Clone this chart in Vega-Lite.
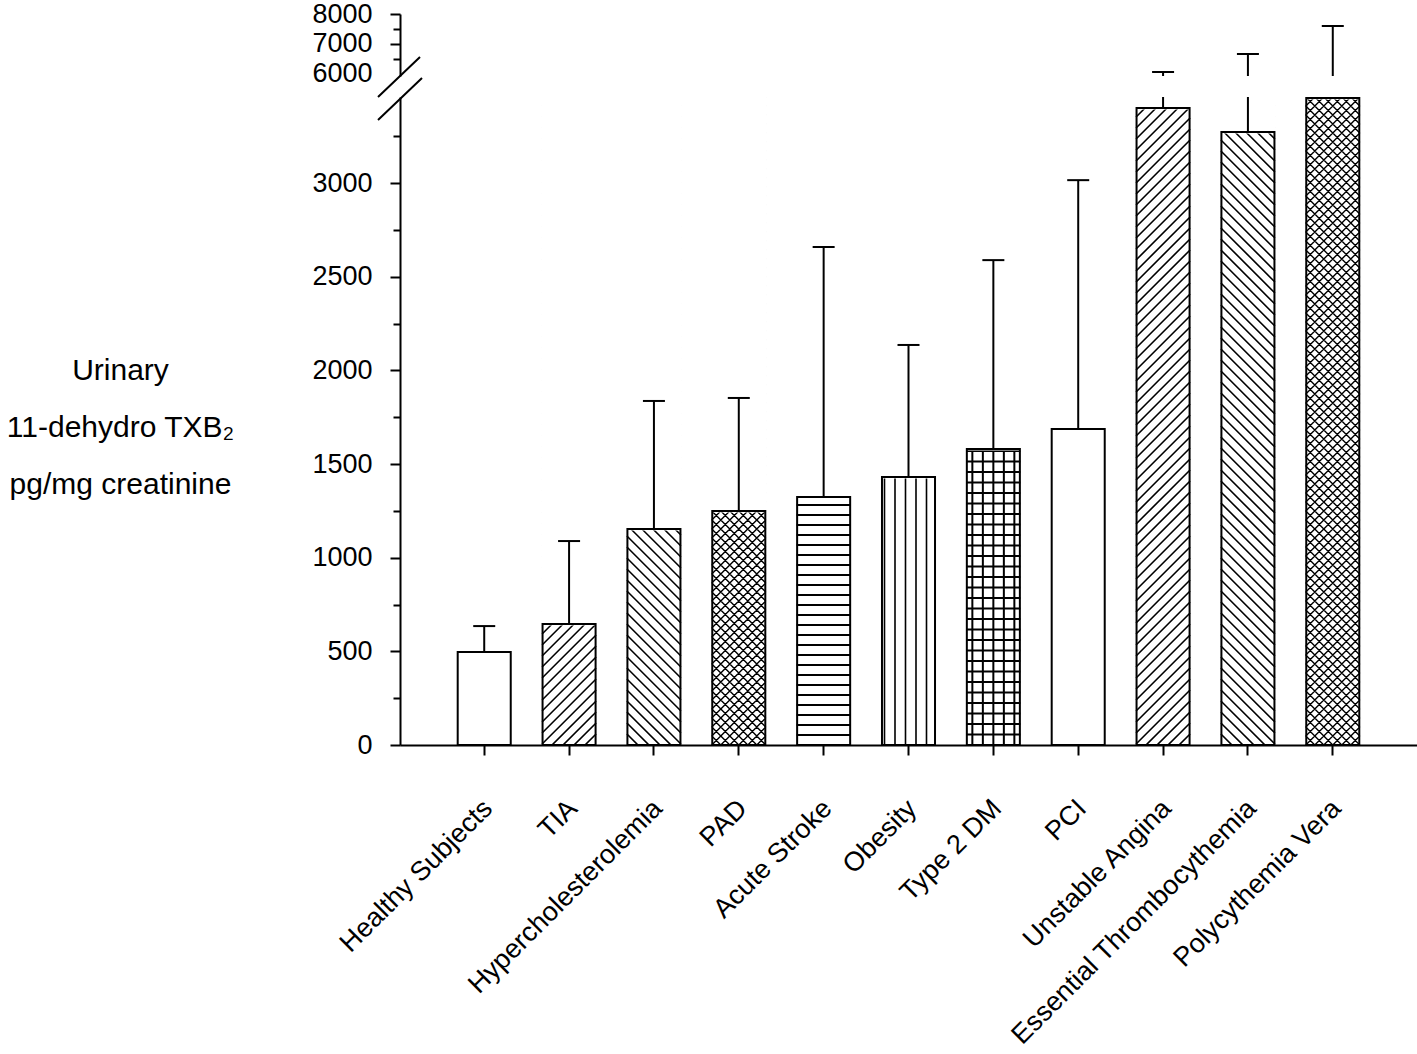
{
  "$schema": "https://vega.github.io/schema/vega-lite/v6.json",
  "description": "Urinary 11-dehydro TXB2 by condition, broken y axis.",
  "autosize": {"type": "none"},
  "width": 1017,
  "height": 731,
  "padding": {"left": 400, "top": 14, "right": 0, "bottom": 309},
  "background": "white",
  "data": {
    "values": [
      {"group": "Healthy Subjects", "mean": 497, "upper": 635},
      {"group": "TIA", "mean": 646, "upper": 1089},
      {"group": "Hypercholesterolemia", "mean": 1153, "upper": 1837},
      {"group": "PAD", "mean": 1249, "upper": 1853},
      {"group": "Acute Stroke", "mean": 1324, "upper": 2659},
      {"group": "Obesity", "mean": 1431, "upper": 2136},
      {"group": "Type 2 DM", "mean": 1580, "upper": 2589},
      {"group": "PCI", "mean": 1687, "upper": 3016},
      {"group": "Unstable Angina", "mean": 3401, "upper": 6067},
      {"group": "Essential Thrombocythemia", "mean": 3273, "upper": 6667},
      {"group": "Polycythemia Vera", "mean": 3454, "upper": 7600}
    ]
  },
  "config": {
    "view": {"stroke": null},
    "axis": {
      "grid": false,
      "domainColor": "#000",
      "domainWidth": 2,
      "tickColor": "#000",
      "tickWidth": 2,
      "labelColor": "#000",
      "labelFont": "Liberation Sans",
      "labelFontSize": 27,
      "labelLimit": 500,
      "titleFont": "Liberation Sans",
      "titleColor": "#000",
      "titleFontWeight": "normal",
      "labelOverlap": false,
      "labelFlush": false,
      "labelBound": false
    }
  },
  "resolve": {"scale": {"y": "independent"}, "axis": {"y": "independent"}},
  "layer": [
    {
      "transform": [{"filter": "datum.upper > 5933"}],
      "encoding": {
        "x": {
          "field": "group", "type": "nominal",
          "sort": ["Healthy Subjects", "TIA", "Hypercholesterolemia", "PAD", "Acute Stroke", "Obesity", "Type 2 DM", "PCI", "Unstable Angina", "Essential Thrombocythemia", "Polycythemia Vera"],
          "scale": {"paddingInner": 0.375, "paddingOuter": 0.68},
          "axis": {"title": null, "labelAngle": -45, "labelAlign": "right", "labelBaseline": "middle", "labelPadding": 49, "labelOffset": 4, "tickSize": 10}
        }
      },
      "layer": [
        {
          "mark": {"type": "rule", "stroke": "#000", "strokeWidth": 2},
          "encoding": {
            "y": {
              "field": "mean", "type": "quantitative",
              "scale": {"domain": [5933, 8000], "range": [62, 0], "clamp": true, "nice": false, "zero": false},
              "axis": {
                "orient": "left", "title": null, "format": "d",
                "values": [6000, 6500, 7000, 7500, 8000],
                "labelExpr": "datum.value % 1000 === 0 ? datum.label : ''",
                "labelPadding": 18,
                "tickSize": {"condition": {"test": "datum.value % 1000 === 0", "value": 10}, "value": 7},
                "tickOpacity": {"condition": {"test": "datum.value === 6000", "value": 0}, "value": 1}
              }
            },
            "y2": {"field": "upper"}
          }
        },
        {
          "mark": {"type": "tick", "color": "#000", "thickness": 2, "size": 22, "opacity": 1},
          "encoding": {
            "y": {
              "field": "upper", "type": "quantitative",
              "scale": {"domain": [5933, 8000], "range": [62, 0], "clamp": true, "nice": false, "zero": false}
            }
          }
        }
      ]
    },
    {
      "encoding": {
        "x": {
          "field": "group", "type": "nominal",
          "sort": ["Healthy Subjects", "TIA", "Hypercholesterolemia", "PAD", "Acute Stroke", "Obesity", "Type 2 DM", "PCI", "Unstable Angina", "Essential Thrombocythemia", "Polycythemia Vera"],
          "scale": {"paddingInner": 0.375, "paddingOuter": 0.68},
          "axis": {"title": null, "labelAngle": -45, "labelAlign": "right", "labelBaseline": "middle", "labelPadding": 49, "labelOffset": 4, "tickSize": 10}
        }
      },
      "layer": [
        {
          "transform": [{"filter": {"field": "group", "oneOf": ["TIA", "Unstable Angina"]}}],
          "mark": {"type": "point", "shape": "M-27,43L27,-11M-27,32L27,-22M-27,21L27,-33M-27,10L27,-44M-27,-1L27,-55M-27,-12L27,-66M-27,-23L27,-77M-27,-34L27,-88M-27,-45L27,-99M-27,-56L27,-110M-27,-67L27,-121M-27,-78L27,-132M-27,-89L27,-143M-27,-100L27,-154M-27,-111L27,-165M-27,-122L27,-176M-27,-133L27,-187M-27,-144L27,-198M-27,-155L27,-209M-27,-166L27,-220M-27,-177L27,-231M-27,-188L27,-242M-27,-199L27,-253M-27,-210L27,-264M-27,-221L27,-275M-27,-232L27,-286M-27,-243L27,-297M-27,-254L27,-308M-27,-265L27,-319M-27,-276L27,-330M-27,-287L27,-341M-27,-298L27,-352M-27,-309L27,-363M-27,-320L27,-374M-27,-331L27,-385M-27,-342L27,-396M-27,-353L27,-407M-27,-364L27,-418M-27,-375L27,-429M-27,-386L27,-440M-27,-397L27,-451M-27,-408L27,-462M-27,-419L27,-473M-27,-430L27,-484M-27,-441L27,-495M-27,-452L27,-506M-27,-463L27,-517M-27,-474L27,-528M-27,-485L27,-539M-27,-496L27,-550M-27,-507L27,-561M-27,-518L27,-572M-27,-529L27,-583M-27,-540L27,-594M-27,-551L27,-605M-27,-562L27,-616M-27,-573L27,-627M-27,-584L27,-638M-27,-595L26,-648M-27,-606L15,-648M-27,-617L4,-648M-27,-628L-7,-648M-27,-639L-18,-648", "size": 4, "filled": false, "stroke": "#000", "strokeWidth": 1.6, "opacity": 1, "clip": true},
          "encoding": {
            "y": {"datum": 0, "type": "quantitative", "scale": {"domain": [0, 3460], "range": [731, 83], "clamp": true, "nice": false, "zero": false}}
          }
        },
        {
          "transform": [{"filter": {"field": "group", "oneOf": ["Hypercholesterolemia", "Essential Thrombocythemia"]}}],
          "mark": {"type": "point", "shape": "M27,43L-27,-11M27,32L-27,-22M27,21L-27,-33M27,10L-27,-44M27,-1L-27,-55M27,-12L-27,-66M27,-23L-27,-77M27,-34L-27,-88M27,-45L-27,-99M27,-56L-27,-110M27,-67L-27,-121M27,-78L-27,-132M27,-89L-27,-143M27,-100L-27,-154M27,-111L-27,-165M27,-122L-27,-176M27,-133L-27,-187M27,-144L-27,-198M27,-155L-27,-209M27,-166L-27,-220M27,-177L-27,-231M27,-188L-27,-242M27,-199L-27,-253M27,-210L-27,-264M27,-221L-27,-275M27,-232L-27,-286M27,-243L-27,-297M27,-254L-27,-308M27,-265L-27,-319M27,-276L-27,-330M27,-287L-27,-341M27,-298L-27,-352M27,-309L-27,-363M27,-320L-27,-374M27,-331L-27,-385M27,-342L-27,-396M27,-353L-27,-407M27,-364L-27,-418M27,-375L-27,-429M27,-386L-27,-440M27,-397L-27,-451M27,-408L-27,-462M27,-419L-27,-473M27,-430L-27,-484M27,-441L-27,-495M27,-452L-27,-506M27,-463L-27,-517M27,-474L-27,-528M27,-485L-27,-539M27,-496L-27,-550M27,-507L-27,-561M27,-518L-27,-572M27,-529L-27,-583M27,-540L-27,-594M27,-551L-27,-605M27,-562L-27,-616M27,-573L-27,-627M27,-584L-27,-638M27,-595L-26,-648M27,-606L-15,-648M27,-617L-4,-648M27,-628L7,-648M27,-639L18,-648", "size": 4, "filled": false, "stroke": "#000", "strokeWidth": 1.6, "opacity": 1, "clip": true},
          "encoding": {
            "y": {"datum": 0, "type": "quantitative"}
          }
        },
        {
          "transform": [{"filter": {"field": "group", "oneOf": ["PAD", "Polycythemia Vera"]}}],
          "mark": {"type": "point", "shape": "M-27,45L27,-9M-27,36L27,-18M-27,27L27,-27M-27,18L27,-36M-27,9L27,-45M-27,0L27,-54M-27,-9L27,-63M-27,-18L27,-72M-27,-27L27,-81M-27,-36L27,-90M-27,-45L27,-99M-27,-54L27,-108M-27,-63L27,-117M-27,-72L27,-126M-27,-81L27,-135M-27,-90L27,-144M-27,-99L27,-153M-27,-108L27,-162M-27,-117L27,-171M-27,-126L27,-180M-27,-135L27,-189M-27,-144L27,-198M-27,-153L27,-207M-27,-162L27,-216M-27,-171L27,-225M-27,-180L27,-234M-27,-189L27,-243M-27,-198L27,-252M-27,-207L27,-261M-27,-216L27,-270M-27,-225L27,-279M-27,-234L27,-288M-27,-243L27,-297M-27,-252L27,-306M-27,-261L27,-315M-27,-270L27,-324M-27,-279L27,-333M-27,-288L27,-342M-27,-297L27,-351M-27,-306L27,-360M-27,-315L27,-369M-27,-324L27,-378M-27,-333L27,-387M-27,-342L27,-396M-27,-351L27,-405M-27,-360L27,-414M-27,-369L27,-423M-27,-378L27,-432M-27,-387L27,-441M-27,-396L27,-450M-27,-405L27,-459M-27,-414L27,-468M-27,-423L27,-477M-27,-432L27,-486M-27,-441L27,-495M-27,-450L27,-504M-27,-459L27,-513M-27,-468L27,-522M-27,-477L27,-531M-27,-486L27,-540M-27,-495L27,-549M-27,-504L27,-558M-27,-513L27,-567M-27,-522L27,-576M-27,-531L27,-585M-27,-540L27,-594M-27,-549L27,-603M-27,-558L27,-612M-27,-567L27,-621M-27,-576L27,-630M-27,-585L27,-639M-27,-594L27,-648M-27,-603L18,-648M-27,-612L9,-648M-27,-621L0,-648M-27,-630L-9,-648M-27,-639L-18,-648M27,45L-27,-9M27,36L-27,-18M27,27L-27,-27M27,18L-27,-36M27,9L-27,-45M27,0L-27,-54M27,-9L-27,-63M27,-18L-27,-72M27,-27L-27,-81M27,-36L-27,-90M27,-45L-27,-99M27,-54L-27,-108M27,-63L-27,-117M27,-72L-27,-126M27,-81L-27,-135M27,-90L-27,-144M27,-99L-27,-153M27,-108L-27,-162M27,-117L-27,-171M27,-126L-27,-180M27,-135L-27,-189M27,-144L-27,-198M27,-153L-27,-207M27,-162L-27,-216M27,-171L-27,-225M27,-180L-27,-234M27,-189L-27,-243M27,-198L-27,-252M27,-207L-27,-261M27,-216L-27,-270M27,-225L-27,-279M27,-234L-27,-288M27,-243L-27,-297M27,-252L-27,-306M27,-261L-27,-315M27,-270L-27,-324M27,-279L-27,-333M27,-288L-27,-342M27,-297L-27,-351M27,-306L-27,-360M27,-315L-27,-369M27,-324L-27,-378M27,-333L-27,-387M27,-342L-27,-396M27,-351L-27,-405M27,-360L-27,-414M27,-369L-27,-423M27,-378L-27,-432M27,-387L-27,-441M27,-396L-27,-450M27,-405L-27,-459M27,-414L-27,-468M27,-423L-27,-477M27,-432L-27,-486M27,-441L-27,-495M27,-450L-27,-504M27,-459L-27,-513M27,-468L-27,-522M27,-477L-27,-531M27,-486L-27,-540M27,-495L-27,-549M27,-504L-27,-558M27,-513L-27,-567M27,-522L-27,-576M27,-531L-27,-585M27,-540L-27,-594M27,-549L-27,-603M27,-558L-27,-612M27,-567L-27,-621M27,-576L-27,-630M27,-585L-27,-639M27,-594L-27,-648M27,-603L-18,-648M27,-612L-9,-648M27,-621L0,-648M27,-630L9,-648M27,-639L18,-648", "size": 4, "filled": false, "stroke": "#000", "strokeWidth": 1.4, "opacity": 1, "clip": true},
          "encoding": {
            "y": {"datum": 0, "type": "quantitative"}
          }
        },
        {
          "transform": [{"filter": {"field": "group", "equal": "Acute Stroke"}}],
          "mark": {"type": "point", "shape": "M-27,-10L27,-10M-27,-20L27,-20M-27,-30L27,-30M-27,-40L27,-40M-27,-50L27,-50M-27,-60L27,-60M-27,-70L27,-70M-27,-80L27,-80M-27,-90L27,-90M-27,-100L27,-100M-27,-110L27,-110M-27,-120L27,-120M-27,-130L27,-130M-27,-140L27,-140M-27,-150L27,-150M-27,-160L27,-160M-27,-170L27,-170M-27,-180L27,-180M-27,-190L27,-190M-27,-200L27,-200M-27,-210L27,-210M-27,-220L27,-220M-27,-230L27,-230M-27,-240L27,-240M-27,-250L27,-250M-27,-260L27,-260M-27,-270L27,-270M-27,-280L27,-280M-27,-290L27,-290M-27,-300L27,-300", "size": 4, "filled": false, "stroke": "#000", "strokeWidth": 2, "opacity": 1, "clip": true},
          "encoding": {
            "y": {"datum": 0, "type": "quantitative"}
          }
        },
        {
          "transform": [{"filter": {"field": "group", "equal": "Obesity"}}],
          "mark": {"type": "point", "shape": "M-24,0L-24,-300M-13.5,0L-13.5,-300M-3,0L-3,-300M7.5,0L7.5,-300M18,0L18,-300", "size": 4, "filled": false, "stroke": "#000", "strokeWidth": 1.6, "opacity": 1, "clip": true},
          "encoding": {
            "y": {"datum": 0, "type": "quantitative"}
          }
        },
        {
          "transform": [{"filter": {"field": "group", "equal": "Type 2 DM"}}],
          "mark": {"type": "point", "shape": "M-21,0L-21,-310M-10.5,0L-10.5,-310M0,0L0,-310M10.5,0L10.5,-310M21,0L21,-310M-27,-10.5L27,-10.5M-27,-21L27,-21M-27,-31.5L27,-31.5M-27,-42L27,-42M-27,-52.5L27,-52.5M-27,-63L27,-63M-27,-73.5L27,-73.5M-27,-84L27,-84M-27,-94.5L27,-94.5M-27,-105L27,-105M-27,-115.5L27,-115.5M-27,-126L27,-126M-27,-136.5L27,-136.5M-27,-147L27,-147M-27,-157.5L27,-157.5M-27,-168L27,-168M-27,-178.5L27,-178.5M-27,-189L27,-189M-27,-199.5L27,-199.5M-27,-210L27,-210M-27,-220.5L27,-220.5M-27,-231L27,-231M-27,-241.5L27,-241.5M-27,-252L27,-252M-27,-262.5L27,-262.5M-27,-273L27,-273M-27,-283.5L27,-283.5M-27,-294L27,-294M-27,-304.5L27,-304.5", "size": 4, "filled": false, "stroke": "#000", "strokeWidth": 2, "opacity": 1, "clip": true},
          "encoding": {
            "y": {"datum": 0, "type": "quantitative"}
          }
        },
        {
          "mark": {"type": "bar", "fill": "white", "stroke": "white", "strokeWidth": 3, "clip": true},
          "encoding": {
            "y": {"field": "mean", "type": "quantitative"},
            "y2": {"datum": 3460}
          }
        },
        {
          "mark": {"type": "bar", "fill": "white", "fillOpacity": 0, "stroke": "#000", "strokeWidth": 2},
          "encoding": {
            "y": {
              "field": "mean", "type": "quantitative",
              "axis": {
                "orient": "left", "format": "d",
                "values": [0, 250, 500, 750, 1000, 1250, 1500, 1750, 2000, 2250, 2500, 2750, 3000, 3250],
                "labelExpr": "datum.value % 500 === 0 ? datum.label : ''",
                "labelPadding": 18,
                "tickSize": {"condition": {"test": "datum.value % 500 === 0", "value": 10}, "value": 7},
                "title": ["Urinary", "11-dehydro TXB₂", "pg/mg creatinine"],
                "titleAngle": 0,
                "titleAlign": "center",
                "titleBaseline": "middle",
                "titleX": -280,
                "titleY": 356,
                "titleFontSize": 30,
                "titleLineHeight": 57
              }
            }
          }
        },
        {
          "mark": {"type": "rule", "stroke": "#000", "strokeWidth": 2},
          "encoding": {
            "y": {"field": "mean", "type": "quantitative"},
            "y2": {"field": "upper"}
          }
        },
        {
          "transform": [{"filter": "datum.upper < 3460"}],
          "mark": {"type": "tick", "color": "#000", "thickness": 2, "size": 22, "opacity": 1},
          "encoding": {
            "y": {"field": "upper", "type": "quantitative"}
          }
        },
        {
          "transform": [{"filter": {"field": "group", "equal": "Healthy Subjects"}}],
          "mark": {"type": "point", "shape": "M-22,0L20,-40M-22,23L22,-19", "size": 4, "filled": false, "stroke": "#000", "strokeWidth": 2, "opacity": 1, "clip": false},
          "encoding": {
            "x": {"value": 0},
            "y": {"datum": 3460, "type": "quantitative"}
          }
        }
      ]
    }
  ]
}
